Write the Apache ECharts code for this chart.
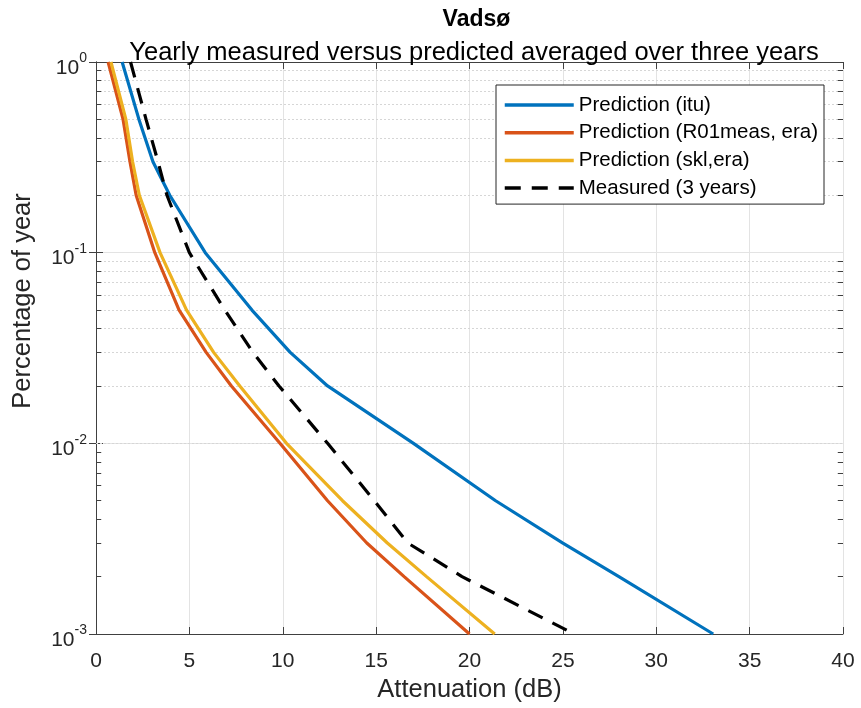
<!DOCTYPE html>
<html>
<head>
<meta charset="utf-8">
<script src="https://cdn.jsdelivr.net/npm/echarts@6/dist/echarts.min.js"></script>
<style>html,body{margin:0;padding:0;background:#fff;}#c{width:861px;height:708px;}</style>
</head>
<body>
<div id="c"></div>
<script>
// Percentage of year (y values)
const percentages = [1, 0.5, 0.3, 0.2, 0.1, 0.05, 0.03, 0.02, 0.01, 0.005, 0.003, 0.002, 0.001];
// Attenuation (dB) for each series
const predItu = [1.4, 2.3, 3.05, 3.95, 5.85, 8.35, 10.4, 12.4, 17.0, 21.4, 25.0, 28.0, 33.05];
const predR01 = [0.65, 1.45, 1.82, 2.15, 3.15, 4.45, 5.9, 7.25, 9.85, 12.4, 14.5, 16.5, 20.0];
const predSkl = [0.8, 1.6, 1.96, 2.32, 3.43, 4.85, 6.3, 7.7, 10.2, 13.2, 15.6, 17.7, 21.35];
const measured = [1.85, 2.68, 3.32, 3.8, 5.0, 6.9, 8.4, 9.8, 12.4, 14.9, 16.7, 19.6, 25.6];
const seriesNames = ['Prediction (itu)', 'Prediction (R01meas, era)', 'Prediction (skl,era)', 'Measured (3 years)'];
const seriesColors = ['#0072BD', '#D95319', '#EDB120', '#000000'];
const decades = [0.001, 0.01, 0.1, 1];

const FONT = 'Liberation Sans, Arial, sans-serif';
const TXT = '#262626';

function pairs(xs) { return xs.map((x, i) => [x, percentages[i]]); }

const minorVals = [];
for (let d = 0; d < decades.length - 1; d++) {
  for (let m = 2; m <= 9; m++) minorVals.push(+(decades[d] * m).toPrecision(3));
}
const minorGrid = minorVals.map(v => ({ yAxis: v }));
const minorTicks = [];
minorVals.forEach(v => {
  minorTicks.push([{ coord: [0, v] }, { coord: [0.28, v] }]);
  minorTicks.push([{ coord: [39.72, v] }, { coord: [40, v] }]);
});

const chart = echarts.init(document.getElementById('c'), null, { renderer: 'canvas' });
const expLabel = v => '{h| }{b|10}{s|' + Math.round(Math.log10(v)) + '}';
const dashes = [null, null, null, [16, 11]];

const option = {
  animation: false,
  backgroundColor: '#fff',
  textStyle: { fontFamily: FONT },
  title: [
    { text: 'Vadsø', left: 471.5, top: 3, textAlign: 'center',
      textStyle: { fontFamily: FONT, fontSize: 23, fontWeight: 'bold', color: '#000' } },
    { text: 'Yearly measured versus predicted averaged over three years', left: 469, top: 35, textAlign: 'center',
      textStyle: { fontFamily: FONT, fontSize: 25.5, fontWeight: 'normal', color: '#000' } }
  ],
  graphic: [
    { type: 'text', x: 23, y: 301, rotation: Math.PI / 2,
      style: { text: 'Percentage of year', fontFamily: FONT, fontSize: 25.5, fill: TXT,
               textAlign: 'center', textVerticalAlign: 'middle' } }
  ],
  grid: { left: 96, top: 62, width: 747, height: 572, containLabel: false },
  legend: {
    orient: 'vertical', left: 496, top: 85, z: 20,
    data: seriesNames.map((n, i) => ({
      name: n,
      itemStyle: { opacity: 0 },
      lineStyle: { color: seriesColors[i], width: 3.5, type: dashes[i] || 'solid', opacity: 1 }
    })),
    backgroundColor: '#fff', borderColor: '#262626', borderWidth: 1,
    padding: [9, 6, 5, 7],
    itemWidth: 69, itemHeight: 14, itemGap: 5.7,
    textStyle: { fontFamily: FONT, fontSize: 20.5, color: '#000', lineHeight: 22 }
  },
  xAxis: [
    { type: 'value', min: 0, max: 40, interval: 5,
      name: 'Attenuation (dB)', nameLocation: 'middle', nameGap: 38,
      nameTextStyle: { fontFamily: FONT, fontSize: 25.5, color: TXT },
      axisLine: { lineStyle: { color: '#404040', width: 1 } },
      axisTick: { inside: true, length: 7, lineStyle: { color: '#404040' } },
      axisLabel: { fontFamily: FONT, fontSize: 21, color: TXT, margin: 17 },
      splitLine: { show: true, lineStyle: { color: '#e3e3e3', width: 1 } } },
    { type: 'value', position: 'top', min: 0, max: 40, interval: 5,
      axisLine: { show: true, lineStyle: { color: '#404040', width: 1 } },
      axisTick: { inside: true, length: 7, lineStyle: { color: '#404040' } },
      axisLabel: { show: false }, splitLine: { show: false } }
  ],
  yAxis: [
    { type: 'log', logBase: 10, min: 0.001, max: 1,
      axisLine: { show: true, lineStyle: { color: '#404040', width: 1 } },
      axisTick: { show: true, inside: true, length: 7, lineStyle: { color: '#404040' } },
      axisLabel: { formatter: expLabel, margin: 9,
        rich: { h: { fontSize: 1, lineHeight: 33, width: 0, verticalAlign: 'middle' },
                b: { fontFamily: FONT, fontSize: 21, color: TXT, verticalAlign: 'bottom', lineHeight: 21 },
                s: { fontFamily: FONT, fontSize: 14, color: TXT, verticalAlign: 'top', lineHeight: 14, padding: [6, 0, 0, 0] } } },
      splitLine: { show: true, lineStyle: { color: '#e3e3e3', width: 1 } } },
    { type: 'log', logBase: 10, min: 0.001, max: 1, position: 'right',
      axisLine: { show: true, lineStyle: { color: '#404040', width: 1 } },
      axisTick: { show: true, inside: true, length: 7, lineStyle: { color: '#404040' } },
      axisLabel: { show: false }, splitLine: { show: false } }
  ],
  series: [
    { type: 'line', name: seriesNames[0], data: pairs(predItu), showSymbol: false, symbol: 'none',
      color: seriesColors[0], lineStyle: { width: 3.2, color: seriesColors[0] }, z: 5 },
    { type: 'line', name: seriesNames[1], data: pairs(predR01), showSymbol: false, symbol: 'none',
      color: seriesColors[1], lineStyle: { width: 3.2, color: seriesColors[1] }, z: 5 },
    { type: 'line', name: seriesNames[2], data: pairs(predSkl), showSymbol: false, symbol: 'none',
      color: seriesColors[2], lineStyle: { width: 3.2, color: seriesColors[2] }, z: 5 },
    { type: 'line', name: seriesNames[3], data: pairs(measured), showSymbol: false, symbol: 'none',
      color: seriesColors[3], lineStyle: { width: 3.2, color: seriesColors[3], type: dashes[3] }, z: 6 },
    { type: 'line', name: 'grid-minor', data: [], silent: true, z: 1,
      markLine: { silent: true, symbol: 'none', label: { show: false }, z: 1,
        lineStyle: { type: [2, 2], color: '#d6d6d6', width: 1 }, data: minorGrid, animation: false } },
    { type: 'line', name: 'tick-minor', data: [], silent: true, z: 1,
      markLine: { silent: true, symbol: 'none', label: { show: false }, z: 1,
        lineStyle: { type: 'solid', color: '#404040', width: 1 }, data: minorTicks, animation: false } }
  ]
};
chart.setOption(option);
</script>
</body>
</html>
